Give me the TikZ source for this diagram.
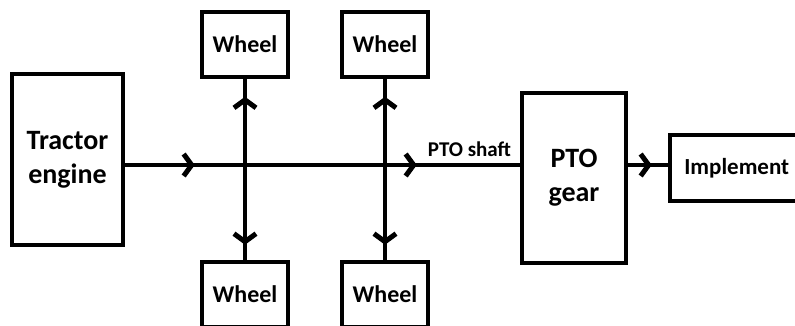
\documentclass[tikz,border=0pt]{standalone}
\usepackage{fontspec}
\setmainfont{Carlito}
\usetikzlibrary{arrows.meta,positioning,calc,decorations.markings}

\begin{document}
\begin{tikzpicture}[x=1pt,y=-1pt,
  every node/.style={font=\bfseries},
  box/.style={draw,line width=3.5pt,inner sep=0pt,align=center},
  bigbox/.style={box,font=\fontsize{28}{34}\selectfont\bfseries},
  wheelbox/.style={box,minimum width=86pt,minimum height=65pt,
                   font=\fontsize{24}{28}\selectfont\bfseries},
  lbl/.style={inner sep=0pt,font=\fontsize{21}{25}\selectfont\bfseries},
  shaft/.style={line width=4pt,postaction={decorate}},
  chev/.tip={Straight Barb[length=8pt,width=22pt,line width=5pt]}
]
\useasboundingbox (0,0) rectangle (795,325);

% engine, gear and implement
\node[bigbox,minimum width=111pt,minimum height=171pt] (engine) at (67.5,159.5)
   {Tractor\\engine};
\node[bigbox,minimum width=104pt,minimum height=170pt] (gear) at (574,178)
   {PTO\\gear};
\node[box,minimum width=134pt,minimum height=66pt,anchor=west,
      font=\fontsize{23}{28}\selectfont\bfseries] (impl) at (668,168) {Implement};

% wheels
\node[wheelbox] (wheelTL) at (245,44.5) {Wheel};
\node[wheelbox] (wheelBL) at (245,294.5) {Wheel};
\node[wheelbox] (wheelTR) at (385,44.5) {Wheel};
\node[wheelbox] (wheelBR) at (385,294.5) {Wheel};

\coordinate (axle) at (245,165);

% shafts
\draw[shaft,decoration={markings,
        mark=at position 70pt with {\arrow{chev}},
        mark=at position 292pt with {\arrow{chev}}}]
   (engine.east |- axle) -- (gear.west |- axle);
\node[lbl,anchor=south east] (ptolbl) at ($(gear.west |- axle)+(-9,-8)$) {PTO shaft};

\draw[shaft,decoration={markings,
        mark=at position 18pt with {\arrowreversed{chev}},
        mark=at position 166pt with {\arrow{chev}}}]
   (wheelTL.south) -- (wheelBL.north);
\draw[shaft,decoration={markings,
        mark=at position 18pt with {\arrowreversed{chev}},
        mark=at position 166pt with {\arrow{chev}}}]
   (wheelTR.south) -- (wheelBR.north);

\draw[shaft,decoration={markings,
        mark=at position 24pt with {\arrow{chev}}}]
   (gear.east |- axle) -- (impl.west |- axle);
\end{tikzpicture}
\end{document}
